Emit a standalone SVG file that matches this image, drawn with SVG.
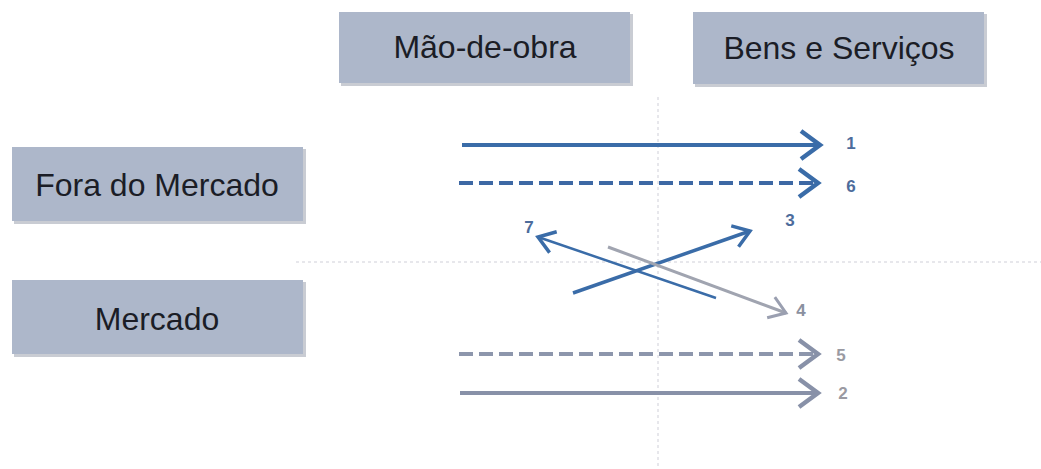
<svg xmlns="http://www.w3.org/2000/svg" width="1041" height="469" viewBox="0 0 1041 469">
<style>
.box{fill:#adb7ca;}
.shadow{fill:#c9ccd3;}
.lbl{font-family:"Liberation Sans",Arial,sans-serif;font-size:32px;fill:#1b1d26;text-anchor:middle;}
.num{font-family:"Liberation Sans",Arial,sans-serif;font-size:17px;font-weight:bold;text-anchor:middle;}
.guide{stroke:#cfcfd8;stroke-width:1;stroke-dasharray:3,3;fill:none;}
.a{fill:none;stroke-linecap:butt;}
</style>
<defs>
<marker id="hb" markerUnits="userSpaceOnUse" markerWidth="30" markerHeight="36" viewBox="-24 -18 30 36" refX="0" refY="0" orient="auto">
<path d="M-19,-14 L0,0 L-19,14" fill="none" stroke="#3a6ca8" stroke-width="4.5" stroke-linejoin="miter"/>
</marker>
<marker id="hbs" markerUnits="userSpaceOnUse" markerWidth="30" markerHeight="30" viewBox="-22 -15 28 30" refX="0" refY="0" orient="auto">
<path d="M-16,-11 L0,0 L-16,11" fill="none" stroke="#3a6ca8" stroke-width="3.5"/>
</marker>
<marker id="hg" markerUnits="userSpaceOnUse" markerWidth="30" markerHeight="36" viewBox="-24 -18 30 36" refX="0" refY="0" orient="auto">
<path d="M-19,-14 L0,0 L-19,14" fill="none" stroke="#8891a8" stroke-width="4.5"/>
</marker>
<marker id="hgs" markerUnits="userSpaceOnUse" markerWidth="30" markerHeight="30" viewBox="-22 -15 28 30" refX="0" refY="0" orient="auto">
<path d="M-16,-11 L0,0 L-16,11" fill="none" stroke="#9a9fb0" stroke-width="3"/>
</marker>
</defs>
<rect width="1041" height="469" fill="#ffffff"/>
<g id="guides">
<line class="guide" x1="658" y1="97" x2="658" y2="469"/>
<line class="guide" x1="296" y1="262" x2="1041" y2="262"/>
</g>
<g id="node-maodeobra">
<rect class="shadow" x="341" y="14" width="292" height="72"/>
<rect class="box" x="339" y="12" width="291" height="71"/>
<text class="lbl" x="485" y="58">Mão-de-obra</text>
</g>
<g id="node-bens">
<rect class="shadow" x="695" y="14" width="292" height="73"/>
<rect class="box" x="693" y="12" width="291" height="72"/>
<text class="lbl" x="839" y="59">Bens e Serviços</text>
</g>
<g id="node-fora">
<rect class="shadow" x="14" y="149" width="292" height="75"/>
<rect class="box" x="12" y="147" width="291" height="74"/>
<text class="lbl" x="157" y="196">Fora do Mercado</text>
</g>
<g id="node-mercado">
<rect class="shadow" x="14" y="282" width="292" height="75"/>
<rect class="box" x="12" y="280" width="291" height="74"/>
<text class="lbl" x="157" y="330">Mercado</text>
</g>
<g id="connectors">
<line class="a" x1="462" y1="145" x2="820" y2="145" stroke="#3a6ca8" stroke-width="4" marker-end="url(#hb)"/>
<line class="a" x1="459" y1="183" x2="818" y2="183" stroke="#3d68a4" stroke-width="4" stroke-dasharray="14,6" marker-end="url(#hb)"/>
<line class="a" x1="573" y1="293" x2="750" y2="231" stroke="#3a6ca8" stroke-width="3.5" marker-end="url(#hbs)"/>
<line class="a" x1="716" y1="298" x2="538" y2="237" stroke="#3a6ca8" stroke-width="2.5" marker-end="url(#hbs)"/>
<line class="a" x1="608" y1="247" x2="786" y2="313" stroke="#a0a4b0" stroke-width="3" marker-end="url(#hgs)"/>
<line class="a" x1="459" y1="354" x2="818" y2="354" stroke="#8d96ac" stroke-width="4" stroke-dasharray="14,6" marker-end="url(#hg)"/>
<line class="a" x1="460" y1="393" x2="818" y2="393" stroke="#8891a8" stroke-width="4" marker-end="url(#hg)"/>
</g>
<g id="labels">
<text class="num" x="851" y="149" fill="#4d6c9c">1</text>
<text class="num" x="851" y="192" fill="#4d6c9c">6</text>
<text class="num" x="790" y="226" fill="#4d6c9c">3</text>
<text class="num" x="529" y="233" fill="#4d6c9c">7</text>
<text class="num" x="801" y="316" fill="#8a90a0">4</text>
<text class="num" x="841" y="361" fill="#9a9aa2" font-weight="normal">5</text>
<text class="num" x="843" y="399" fill="#9a9aa2" font-weight="normal">2</text>
</g>
</svg>
